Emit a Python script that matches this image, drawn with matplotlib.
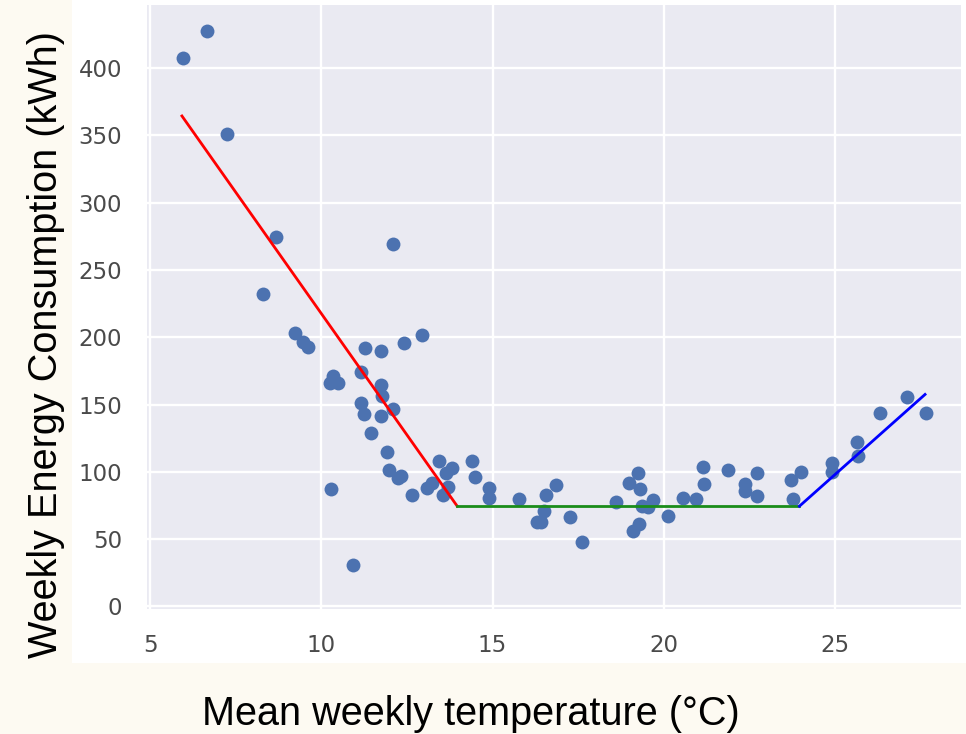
import matplotlib
matplotlib.use("Agg")
import matplotlib.pyplot as plt
from matplotlib.patches import Rectangle

temperature = [
    5.97, 6.65, 7.26, 8.67, 8.31, 12.09, 9.23, 9.48, 9.62, 11.27,
    11.74, 12.41, 12.94, 10.33, 10.24, 10.50, 11.16, 11.74, 11.78, 11.16,
    11.26, 11.74, 12.10, 11.45, 11.93, 11.98, 12.23, 12.33, 12.66, 10.27,
    10.92, 13.08, 13.22, 13.43, 13.64, 13.83, 13.69, 13.55, 14.39, 14.49,
    14.91, 14.91, 15.78, 16.55, 16.85, 16.51, 16.29, 16.41, 17.26, 17.60,
    18.60, 18.99, 19.25, 19.31, 19.37, 19.55, 19.68, 19.09, 19.29, 20.11,
    20.57, 20.94, 21.14, 21.18, 21.88, 22.71, 22.37, 22.37, 22.71, 23.72,
    24.00, 23.76, 24.92, 24.92, 25.63, 25.68, 26.31, 27.09, 27.66,
]
energy = [
    407.5, 428.0, 350.8, 274.6, 232.3, 269.7, 202.9, 196.8, 192.6, 192.3,
    189.9, 195.5, 201.7, 171.0, 166.0, 166.0, 173.9, 164.8, 156.7, 150.8,
    142.7, 141.5, 146.4, 129.2, 114.5, 101.5, 95.6, 96.5, 83.0, 87.0,
    31.0, 87.8, 91.4, 108.3, 99.0, 102.5, 88.5, 83.0, 108.3, 96.0,
    88.2, 80.8, 79.6, 83.0, 90.4, 70.7, 62.9, 62.4, 66.5, 48.1,
    77.6, 91.6, 99.2, 87.0, 74.7, 73.9, 78.9, 56.0, 60.9, 67.3,
    80.8, 79.6, 103.4, 91.2, 101.5, 99.0, 90.6, 85.7, 82.0, 94.1,
    99.7, 79.4, 106.6, 99.7, 122.3, 112.0, 143.5, 155.7, 143.5,
]

# piecewise fit: heating, base load, cooling
heating_x = [5.93, 13.97]
heating_y = [364.5, 74.4]
base_x = [13.97, 23.96]
base_y = [74.4, 74.4]
cooling_x = [23.96, 27.63]
cooling_y = [74.4, 157.5]

x_ticks = [5, 10, 15, 20, 25]
y_ticks = [0, 50, 100, 150, 200, 250, 300, 350, 400]

W, H = 966, 734
fig = plt.figure(figsize=(W / 100, H / 100), dpi=100)
fig.patch.set_facecolor("#fdfaf2")
# white backdrop of the pasted chart image
fig.patches.append(Rectangle((72 / W, (H - 663) / H), 1 - 72 / W, 663 / H,
                             transform=fig.transFigure, facecolor="white",
                             edgecolor="none", zorder=-1))

ax = fig.add_axes([147 / W, (H - 609) / H, 814 / W, 604 / H])
ax.set_zorder(1)
ax.set_facecolor("#eaeaf2")
for side in ax.spines.values():
    side.set_visible(False)
ax.grid(True, color="white", linewidth=1.7)
ax.set_axisbelow(True)

ax.scatter(temperature, energy, s=100, color="#4c72b0", linewidths=0, zorder=3)
ax.plot(heating_x, heating_y, color="red", linewidth=2.0, zorder=4)
ax.plot(base_x, base_y, color="#1a8c1a", linewidth=2.0, zorder=4)
ax.plot(cooling_x, cooling_y, color="blue", linewidth=2.0, zorder=4)

ax.set_xlim(4.91, 28.68)
ax.set_ylim(-2, 447)
ax.set_xticks(x_ticks)
ax.set_yticks(y_ticks)
ax.tick_params(length=0, labelsize=16.5, labelcolor="#4a4a4a", pad=18)

fig.text(471 / W, (H - 725) / H, "Mean weekly temperature (°C)",
         family="Liberation Sans", fontsize=28.5, color="black",
         ha="center", va="baseline", zorder=2)
fig.text(46 / W, (H - 345) / H, "Weekly Energy Consumption (kWh)",
         family="Liberation Sans", fontsize=28.5, color="black",
         rotation=90, ha="center", va="center", zorder=2)

fig.savefig("out.png", dpi=100, facecolor=fig.get_facecolor())
